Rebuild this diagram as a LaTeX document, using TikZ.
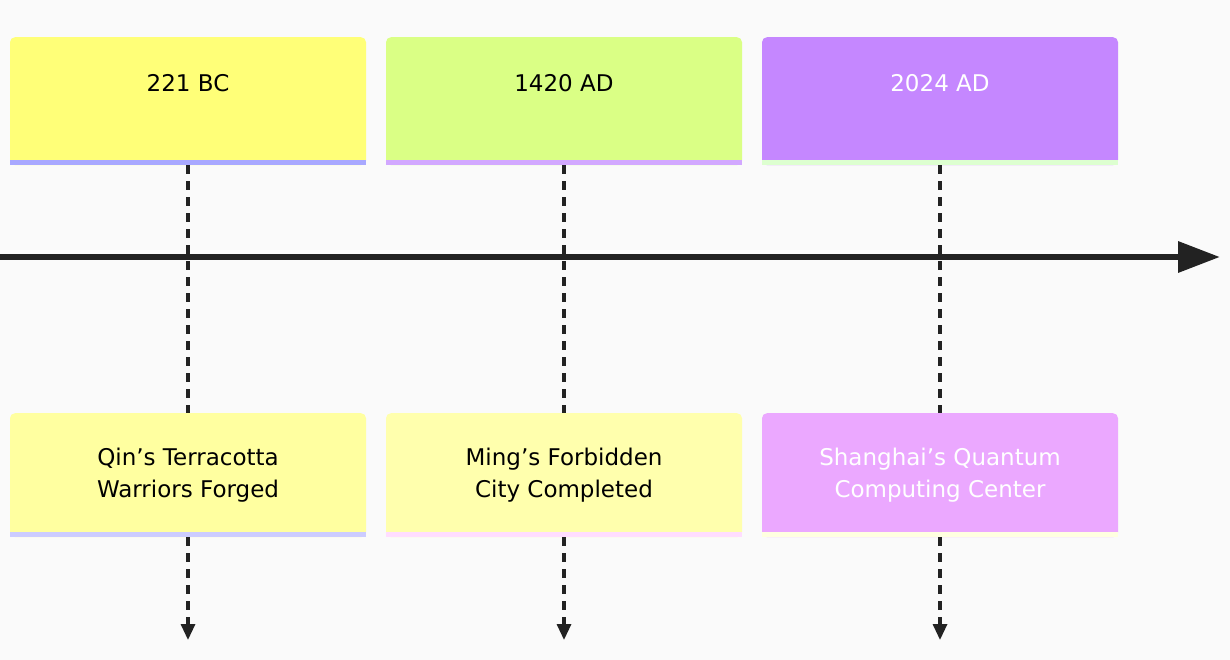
\documentclass[tikz,border=0pt]{standalone}
\usepackage{fontspec}
\setmainfont{DejaVu Sans}
\usetikzlibrary{arrows.meta,positioning}
\definecolor{bgc}{HTML}{FAFAFA}
\definecolor{ink}{HTML}{222222}
\definecolor{yearA}{HTML}{FFFF78}\definecolor{stripA}{HTML}{A8A8FF}
\definecolor{yearB}{HTML}{DAFF85}\definecolor{stripB}{HTML}{D2A8FF}
\definecolor{yearC}{HTML}{C587FF}\definecolor{stripC}{HTML}{DDFFD0}
\definecolor{eventA}{HTML}{FFFFA0}\definecolor{lineA}{HTML}{CCCCFF}
\definecolor{eventB}{HTML}{FFFFAD}\definecolor{lineB}{HTML}{FFDDFF}
\definecolor{eventC}{HTML}{EBA8FF}\definecolor{lineC}{HTML}{FFFFE0}
\tikzset{
  card/.style={minimum width=356pt, rounded corners=5pt, inner sep=0pt, align=center,
    font=\fontsize{23}{32}\selectfont},
  link/.style={ink, line width=3.2pt, dash pattern=on 9pt off 7pt}
}
\begin{document}
\begin{tikzpicture}[x=1pt,y=-1pt]
    \fill[bgc] (0,0) rectangle (1230,660);
    \useasboundingbox (0,0) rectangle (1230,660);
    % axis
    \draw[ink, line width=6.5pt, -{Triangle[length=42pt,width=30pt]}] (0,257) -- (1220,257);
    \foreach \i/\x/\yr/\ev/\tc in {A/188/221 BC/Qin's Terracotta\\Warriors Forged/black,
        B/564/1420 AD/Ming's Forbidden\\City Completed/black,
        C/940/2024 AD/Shanghai's Quantum\\Computing Center/white}{
        \node[card, fill=year\i, minimum height=128pt, text=\tc, anchor=north] (year\i) at (\x,37) {};
        \node[text=\tc, font=\fontsize{23}{32}\selectfont] at (\x,83) {\yr};
        \fill[strip\i] ([yshift=5pt]year\i.south west) rectangle (year\i.south east);
        \node[card, fill=event\i, minimum height=124pt, text=\tc, anchor=north] (event\i) at (\x,413) {\ev};
        \fill[line\i] ([yshift=5pt]event\i.south west) rectangle (event\i.south east);
        \coordinate (end\i) at (\x,640);
        \draw[link] (year\i.south) -- (event\i.north);
        \draw[link, -{Triangle[length=16pt,width=14pt]}] (event\i.south) -- (end\i);
    }
\end{tikzpicture}
\end{document}
